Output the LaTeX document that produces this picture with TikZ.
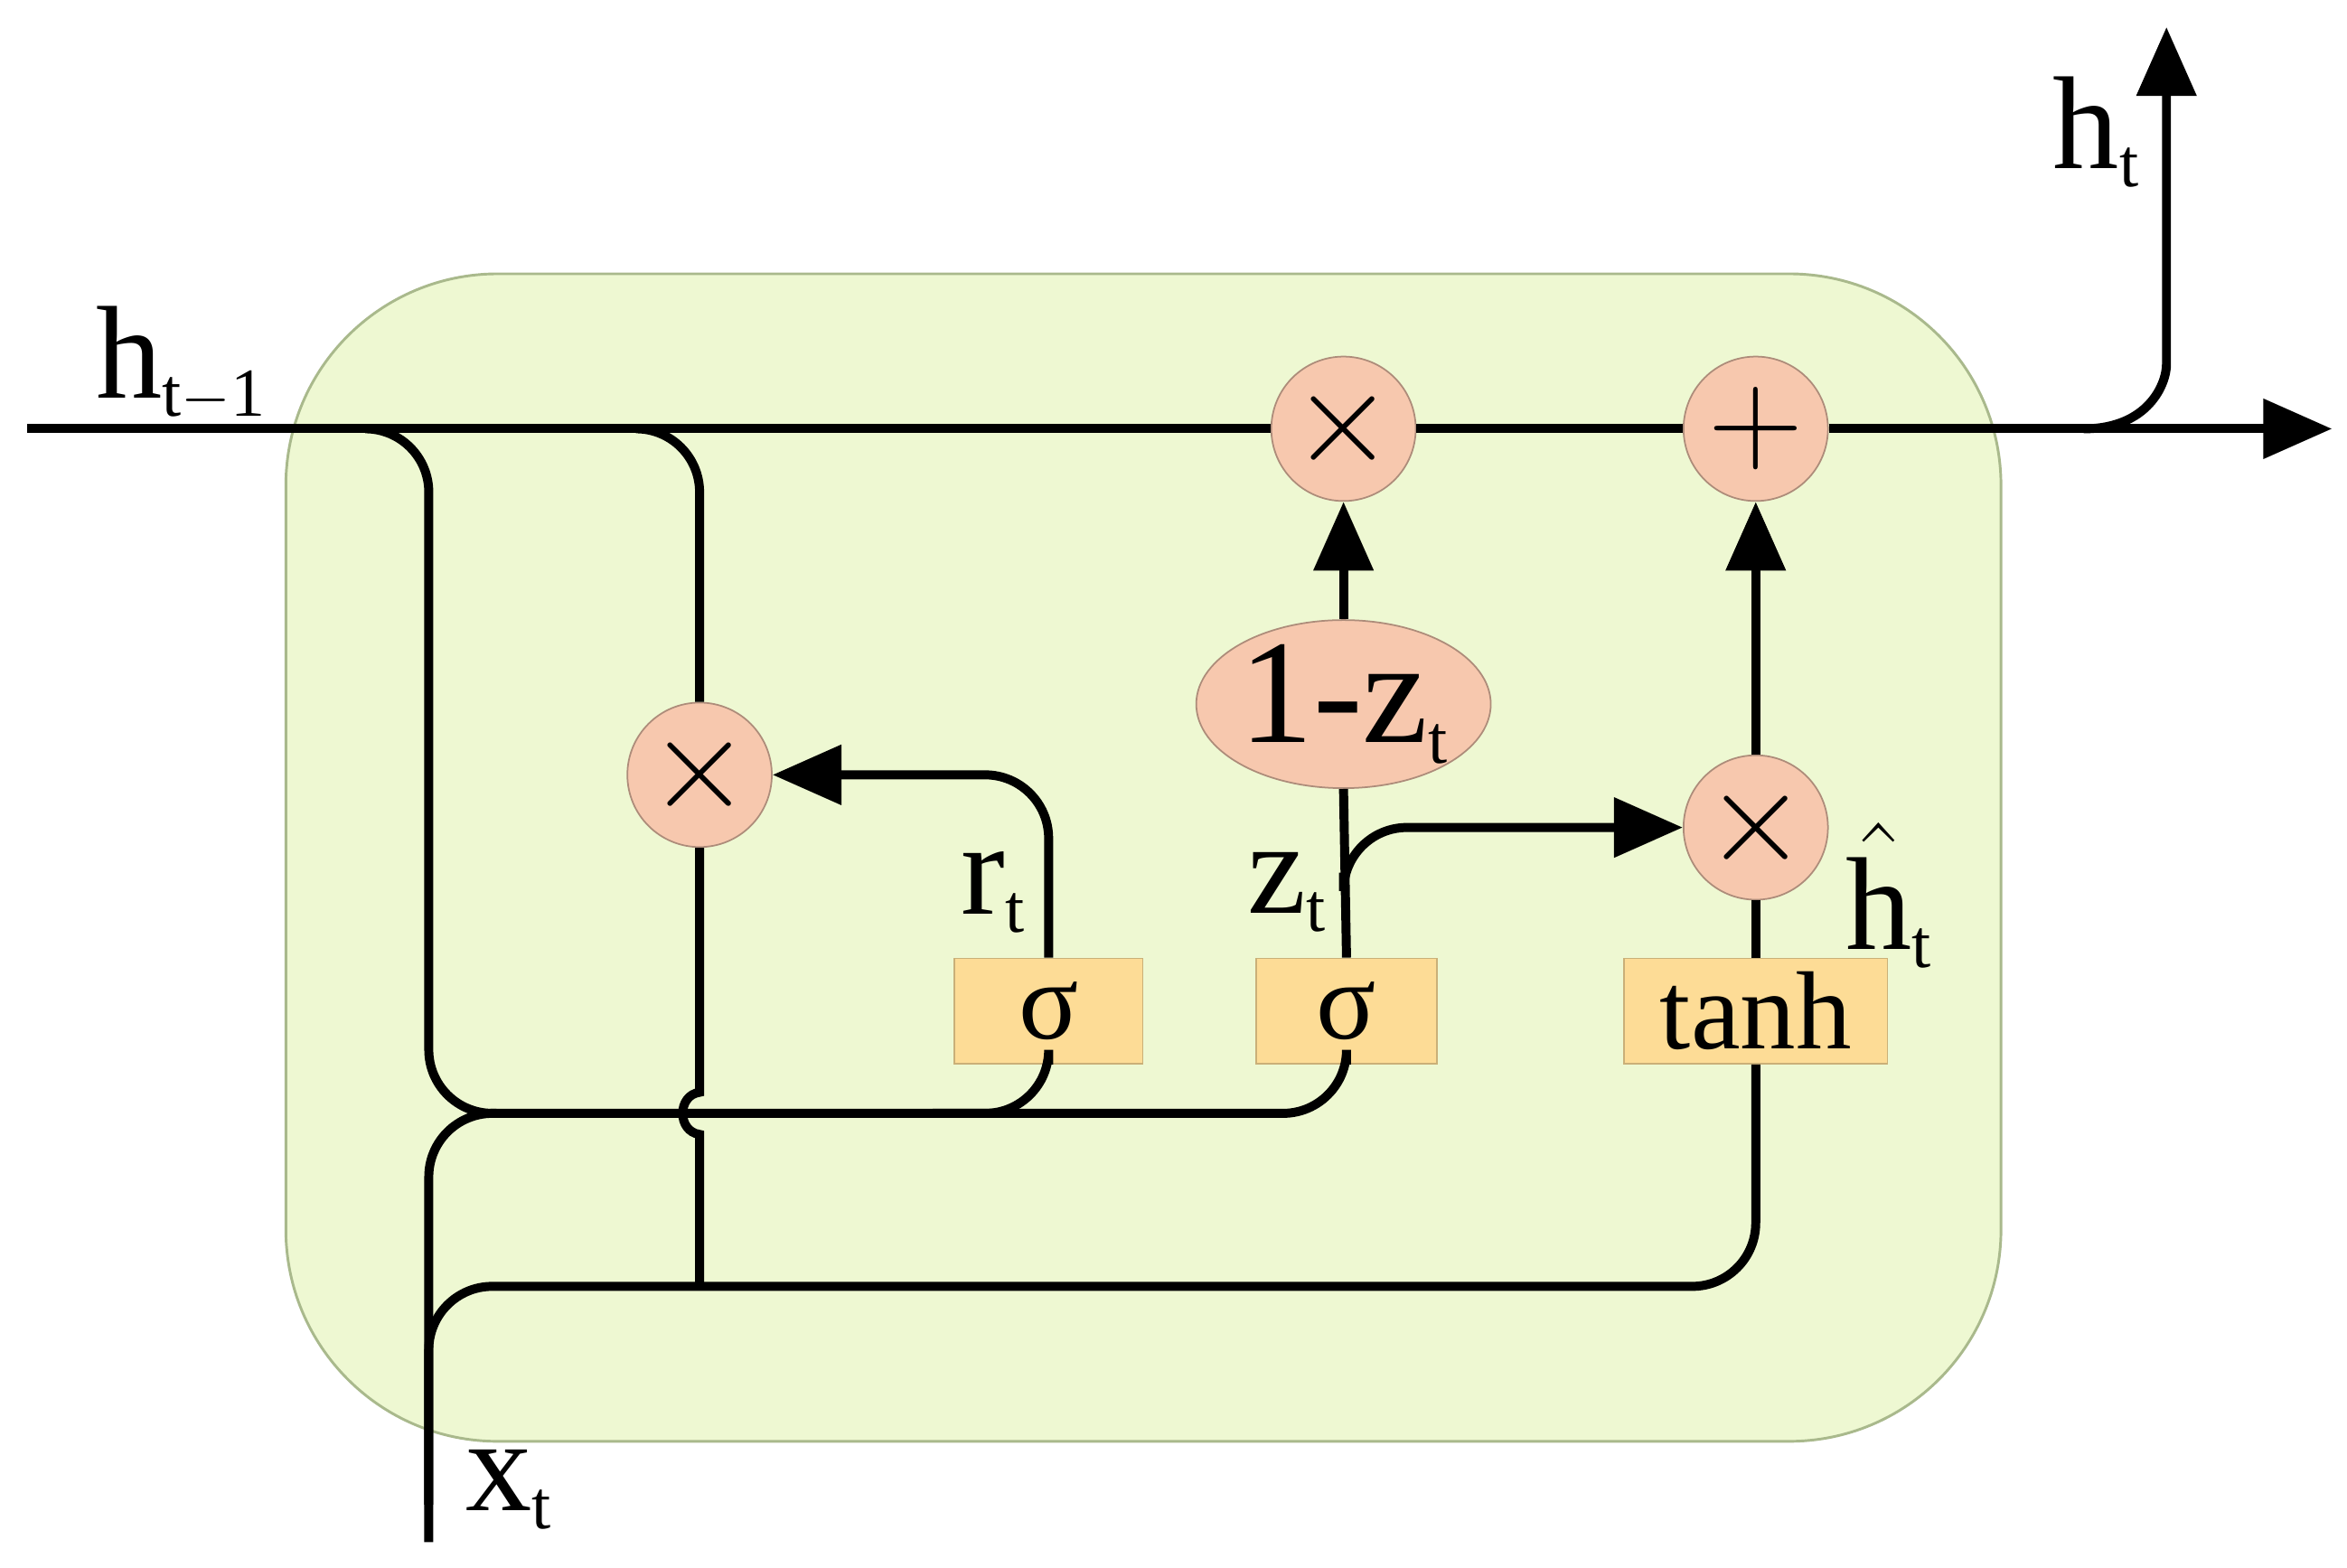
\documentclass[tikz,border=0pt]{standalone}
\usepackage{fontspec}
\setmainfont{Liberation Serif}
\usetikzlibrary{arrows.meta,shapes.geometric}
\definecolor{cellg}{HTML}{EEF8D2}
\definecolor{cellb}{HTML}{A9B98C}
\definecolor{peach}{HTML}{F7C8AE}
\definecolor{boxy}{HTML}{FDDC96}
\newcommand{\sbt}[1]{\raisebox{-0.3ex}{\fontsize{13}{13}\selectfont #1}}
\begin{document}
\begin{tikzpicture}[x=0.01cm,y=-0.01cm,
  wire/.style={line width=1.7pt,rounded corners=12pt},
  arr/.style={wire,-{Triangle[length=13pt,width=11pt]}},
  op/.style={circle,fill=peach,draw=peach!70!black,line width=0.3pt,minimum size=96*0.01cm,inner sep=0pt,font=\fontsize{30}{30}\selectfont},
  gate/.style={rectangle,fill=boxy,draw=boxy!80!black,line width=0.3pt,minimum height=70*0.01cm,inner sep=0pt,font=\fontsize{21}{21}\selectfont},
  lab/.style={font=\fontsize{25}{25}\selectfont,inner sep=0pt}]
\useasboundingbox (0,0) rectangle (1560,1042);
\node[draw=cellb,fill=cellg,line width=0.5pt,rounded corners=40pt,minimum width=1140*0.01cm,minimum height=776*0.01cm] (cell) at (760,570) {};
\node[op] (m1) at (893,285) {$\times$};
\node[op] (pl) at (1167,285) {$+$};
\node[op] (m2) at (465,515) {$\times$};
\node[op] (m3) at (1167,550) {$\times$};
\node[ellipse,fill=peach,draw=peach!70!black,line width=0.3pt,minimum width=195*0.01cm,minimum height=95*0.01cm,inner sep=0pt,font=\fontsize{28}{28}\selectfont] (oz) at (893,468) {1-z\sbt{t}};
\node[gate,minimum width=125*0.01cm] (sr) at (697,672) {σ};
\node[gate,minimum width=120*0.01cm] (sz) at (895,672) {σ};
\node[gate,minimum width=175*0.01cm] (th) at (1167,672) {tanh};
\coordinate (hin) at (18,285);
\coordinate (hend) at (1550,285);
\coordinate (hup) at (1440,18);
\coordinate (xin) at (285,1025);
\node[lab] at (120,242) {h\sbt{t$-$1}};
\node[lab] at (1393,88) {h\sbt{t}};
\node[lab] at (660,593) {r\sbt{t}};
\node[lab] at (855,593) {z\sbt{t}};
\node[lab] at (1255,595) {$\hat{\mathrm{h}}$\sbt{t}};
\node[lab] at (338,990) {x\sbt{t}};
% main line
\draw[wire] (hin) -- (m1);
\draw[wire] (m1) -- (pl);
\draw[arr] (pl) -- (hend);
\draw[arr] (1385,285) .. controls (1428,285) and (1440,255) .. (1440,200) -- (hup);
% h_{t-1} branches
\draw[wire] (255,285) -| (285,740) -| (sz.south);
\draw[wire] (620,740) -| (sr.south);
\draw[wire] (440,285) -| (m2.north);
\draw[line width=1.7pt] (m2.south) -- (465,726) .. controls (450,728) and (450,752) .. (465,754) -- (465,855);
% x_t
\draw[wire] (xin) -- (285,855) -- (1167,855) -- (th.south);
\draw[wire] (285,1000) -- (285,740) -- (330,740);
% gates
\draw[arr] (sr.north) |- (m2.east);
\draw[wire] (sz.north) -- (oz.south);
\draw[arr] (893,580) |- (m3.west);
\draw[arr] (oz.north) -- (m1.south);
\draw[wire] (th.north) -- (m3.south);
\draw[arr] (m3.north) -- (pl.south);
\end{tikzpicture}
\end{document}
